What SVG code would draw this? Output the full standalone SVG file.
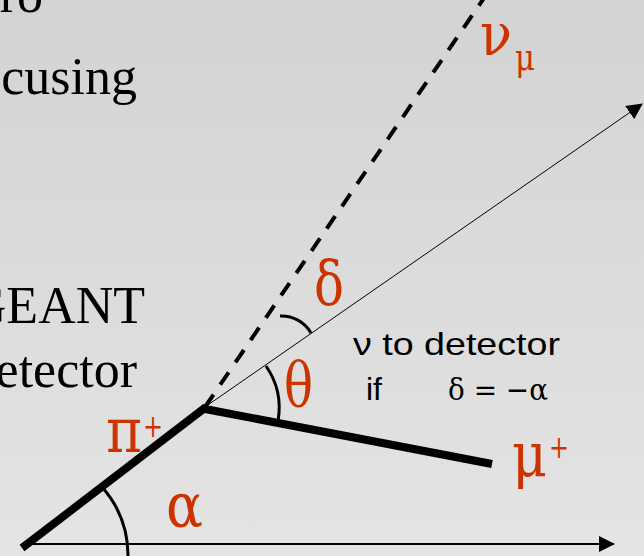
<svg xmlns="http://www.w3.org/2000/svg" width="644" height="556" viewBox="0 0 644 556">
<defs>
<linearGradient id="bg" x1="0" y1="0" x2="0" y2="1">
<stop offset="0" stop-color="#d3d3d3"/>
<stop offset="1" stop-color="#e4e4e4"/>
</linearGradient>
<marker id="ah" markerUnits="userSpaceOnUse" markerWidth="16" markerHeight="16" viewBox="0 0 16 16" refX="15" refY="8" orient="auto">
<path d="M0,0 L16,8 L0,16 Z" fill="#000"/>
</marker>
<style>
.blk{font-family:"Liberation Serif","Times New Roman",serif;font-size:52px;fill:#000}
.red{font-family:"DejaVu Serif","Liberation Serif",serif;fill:#cc3300}
.sans{font-family:"Liberation Sans",Arial,sans-serif;font-size:32px;fill:#000}
.ser{font-family:"DejaVu Serif","Liberation Serif",serif;font-size:30px;fill:#000}
.arc{fill:none;stroke:#000;stroke-width:3}
</style>
</defs>
<rect width="644" height="556" fill="url(#bg)"/>
<g id="text-left">
<text class="blk" x="43" y="12" text-anchor="end">ro</text>
<text class="blk" x="137" y="94" text-anchor="end">cusing</text>
<text class="blk" x="145" y="323" text-anchor="end">GEANT</text>
<text class="blk" x="137" y="387" text-anchor="end">etector</text>
</g>
<g id="connectors">
<line x1="205" y1="407" x2="642" y2="104" stroke="#000" stroke-width="1" marker-end="url(#ah)"/>
<line x1="205" y1="407" x2="484" y2="-2" stroke="#000" stroke-width="4" stroke-dasharray="15,12"/>
<line x1="24" y1="544" x2="614" y2="544" stroke="#000" stroke-width="2" marker-end="url(#ah)"/>
<line x1="22" y1="548" x2="206" y2="407" stroke="#000" stroke-width="8"/>
<line x1="205" y1="409" x2="492" y2="464" stroke="#000" stroke-width="8"/>
</g>
<g id="arcs">
<path class="arc" d="M102,487 A104,104 0 0,1 128,556"/>
<path class="arc" d="M266,366 A74,74 0 0,1 278,421"/>
<path class="arc" d="M280,316 A34,34 0 0,1 311,333"/>
</g>
<g id="labels">
<text class="red" x="480" y="55" font-size="60" textLength="32" lengthAdjust="spacingAndGlyphs">ν</text>
<text class="red" x="515" y="70" font-size="38" textLength="20" lengthAdjust="spacingAndGlyphs">μ</text>
<text class="red" x="314" y="305" font-size="62" textLength="30" lengthAdjust="spacingAndGlyphs">δ</text>
<text class="red" x="284" y="406" font-size="62" textLength="29" lengthAdjust="spacingAndGlyphs">θ</text>
<text class="red" x="106" y="452" font-size="62" textLength="36" lengthAdjust="spacingAndGlyphs">π</text>
<text class="red" x="143" y="437" font-size="32" textLength="20" lengthAdjust="spacingAndGlyphs">+</text>
<text class="red" x="166" y="527" font-size="62" textLength="37" lengthAdjust="spacingAndGlyphs">α</text>
<text class="red" x="512" y="476" font-size="62" textLength="35" lengthAdjust="spacingAndGlyphs">μ</text>
<text class="red" x="549" y="458" font-size="32" textLength="20" lengthAdjust="spacingAndGlyphs">+</text>
</g>
<g id="note">
<text class="sans" x="353" y="355" textLength="207" lengthAdjust="spacingAndGlyphs">ν to detector</text>
<text class="sans" x="366" y="400">if</text>
<text class="ser" x="448" y="400" textLength="100" lengthAdjust="spacingAndGlyphs">δ = −α</text>
</g>
</svg>
